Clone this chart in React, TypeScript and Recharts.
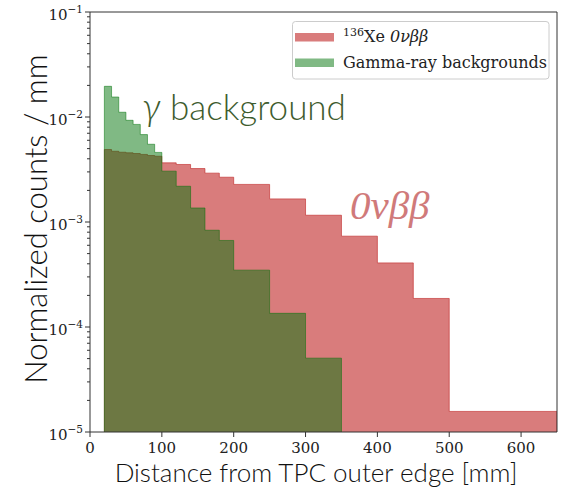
import React from 'react';
import { ComposedChart, Area, XAxis, YAxis, ReferenceLine } from 'recharts';

// ---- data ----
const binEdges = [20, 30, 40, 50, 60, 70, 80, 90, 100, 120, 140, 160, 180, 200, 250, 300, 350, 400, 450, 500, 650];
const signalCounts = [
  0.0049, 0.00472, 0.00462, 0.00456, 0.00449, 0.0044, 0.0043, 0.00423,
  0.00366, 0.00353, 0.00323, 0.00292, 0.00267,
  0.00228, 0.00166, 0.00116, 0.000733, 0.000408, 0.000187,
  0.0000157,
];
const gammaEdges = [20, 30, 40, 50, 60, 70, 80, 90, 100, 120, 140, 160, 180, 200, 250, 300, 350];
const gammaCounts = [
  0.0196, 0.0155, 0.0111, 0.0093, 0.0085, 0.0068, 0.0055, 0.0046,
  0.00305, 0.00219, 0.00136, 0.000835, 0.000667,
  0.000348, 0.000135, 0.0000505,
];
const xTicks = [0, 100, 200, 300, 400, 500, 600];
const yDecades = [-5, -4, -3, -2, -1];
const yMinorMultipliers = [2, 3, 4, 5, 6, 7, 8, 9];
const Y_MIN = 1e-5;
const Y_MAX = 1e-1;
const X_MIN = 0;
const X_MAX = 650;

const legendItems = ['signal', 'gamma'];

// ---- styles ----
const RED = '#c02424';
const RED_ALPHA = 0.6;
const GREEN = '#01730a';
const GREEN_ALPHA = 0.5;
const AXIS = '#333333';
const TICK_FONT = "'DejaVu Serif', serif";
const MATH_FONT = "'Liberation Serif', serif";
const TITLE_FONT = "Lato, 'Open Sans', sans-serif";

function toSteps(edges: number[], counts: number[]) {
  const pts: { x: number; y: number }[] = [{ x: edges[0], y: Y_MIN }];
  counts.forEach((c, i) => pts.push({ x: edges[i], y: c }));
  pts.push({ x: edges[edges.length - 1], y: counts[counts.length - 1] });
  pts.push({ x: edges[edges.length - 1], y: Y_MIN });
  return pts;
}

const signalSteps = toSteps(binEdges, signalCounts);
const gammaSteps = toSteps(gammaEdges, gammaCounts);

const yTicks: number[] = [];
yDecades.forEach((d) => {
  yTicks.push(Math.pow(10, d));
  if (d < -1) yMinorMultipliers.forEach((m) => yTicks.push(m * Math.pow(10, d)));
});
yTicks.sort((a, b) => a - b);

const YTick = (props: any) => {
  const { x, y, payload } = props;
  const v = payload.value as number;
  const e = Math.log10(v);
  const major = Math.abs(e - Math.round(e)) < 1e-6;
  if (!major) {
    return <line x1={x - 3} x2={x} y1={y} y2={y} stroke={AXIS} strokeWidth={1} />;
  }
  return (
    <g>
      <line x1={x - 5} x2={x} y1={y} y2={y} stroke={AXIS} strokeWidth={1} />
      <text x={x - 7} y={y + 8} textAnchor="end" fontFamily={TICK_FONT} fontSize={15} fill="#222">
        10
        <tspan fontSize={10.5} dy={-7}>{'\u2212' + Math.round(-e)}</tspan>
      </text>
    </g>
  );
};

const XTick = (props: any) => {
  const { x, y, payload } = props;
  return (
    <g>
      <line x1={x} x2={x} y1={y} y2={y + 5} stroke={AXIS} strokeWidth={1} />
      <text x={x} y={y + 21} textAnchor="middle" fontFamily={TICK_FONT} fontSize={15} fill="#222">
        {payload.value}
      </text>
    </g>
  );
};

export default function App() {
  return (
    <div style={{ position: 'absolute', left: 0, top: 0, width: 561, height: 488, background: '#fff' }}>
      <ComposedChart
        width={561}
        height={488}
        margin={{ top: 12, right: 4, left: 0, bottom: 0 }}
      >
        <XAxis
          dataKey="x"
          type="number"
          domain={[X_MIN, X_MAX]}
          allowDataOverflow
          ticks={xTicks}
          interval={0}
          tick={<XTick />}
          tickLine={false}
          tickSize={0}
          tickMargin={0}
          height={56}
          axisLine={{ stroke: AXIS }}
        />
        <YAxis
          type="number"
          scale="log"
          domain={[Y_MIN, Y_MAX]}
          allowDataOverflow
          ticks={yTicks}
          interval={0}
          tick={<YTick />}
          tickLine={false}
          tickSize={0}
          tickMargin={0}
          width={90}
          axisLine={{ stroke: AXIS }}
        />
        <Area
          data={signalSteps}
          dataKey="y"
          type="stepAfter"
          baseValue={Y_MIN}
          fill={RED}
          fillOpacity={RED_ALPHA}
          stroke={RED}
          strokeOpacity={RED_ALPHA}
          strokeWidth={1}
          dot={false}
          activeDot={false}
          isAnimationActive={false}
        />
        <Area
          data={gammaSteps}
          dataKey="y"
          type="stepAfter"
          baseValue={Y_MIN}
          fill={GREEN}
          fillOpacity={GREEN_ALPHA}
          stroke={GREEN}
          strokeOpacity={GREEN_ALPHA}
          strokeWidth={1}
          dot={false}
          activeDot={false}
          isAnimationActive={false}
        />
        <ReferenceLine y={Y_MAX} stroke={AXIS} ifOverflow="visible" />
        <ReferenceLine x={X_MAX} stroke={AXIS} ifOverflow="visible" />
      </ComposedChart>
      <svg
        width={561}
        height={488}
        style={{ position: 'absolute', left: 0, top: 0, pointerEvents: 'none' }}
      >
        {/* legend */}
        <rect x={292.5} y={21.5} width={256.5} height={57.5} rx={3} fill="#fff" fillOpacity={0.9} stroke="#cccccc" />
        {legendItems.map((k, i) => (
          <rect
            key={k}
            x={295}
            y={33 + i * 25.5}
            width={39}
            height={8.5}
            fill={k === 'signal' ? RED : GREEN}
            fillOpacity={k === 'signal' ? RED_ALPHA : GREEN_ALPHA}
          />
        ))}
        <text x={343} y={42} fontFamily={TICK_FONT} fontSize={16} fill="#222">
          <tspan fontSize={11} dy={-6}>136</tspan>
          <tspan dy={6}>Xe </tspan>
          <tspan fontStyle="italic">0νββ</tspan>
        </text>
        <text x={343} y={67.5} fontFamily={TICK_FONT} fontSize={16} fill="#222">
          Gamma-ray backgrounds
        </text>

        {/* annotations */}
        <text x={142} y={120} fontFamily={TITLE_FONT} fontWeight={300} fontSize={35} fill="#3e5c2e">
          <tspan fontStyle="italic" fontSize={38}>γ</tspan>
          <tspan> background</tspan>
        </text>
        <text x={350} y={219} fontFamily={MATH_FONT} fontStyle="italic" fontSize={41} fill="#d07a7a">
          0νββ
        </text>

        {/* axis titles */}
        <text x={316} y={482} textAnchor="middle" fontFamily={TITLE_FONT} fontWeight={300} fontSize={26} fill="#111">
          Distance from TPC outer edge [mm]
        </text>
        <text
          x={47}
          y={219}
          textAnchor="middle"
          transform="rotate(-90 47 219)"
          fontFamily={TITLE_FONT}
          fontWeight={300}
          fontSize={31}
          fill="#111"
        >
          Normalized counts / mm
        </text>
      </svg>
    </div>
  );
}
